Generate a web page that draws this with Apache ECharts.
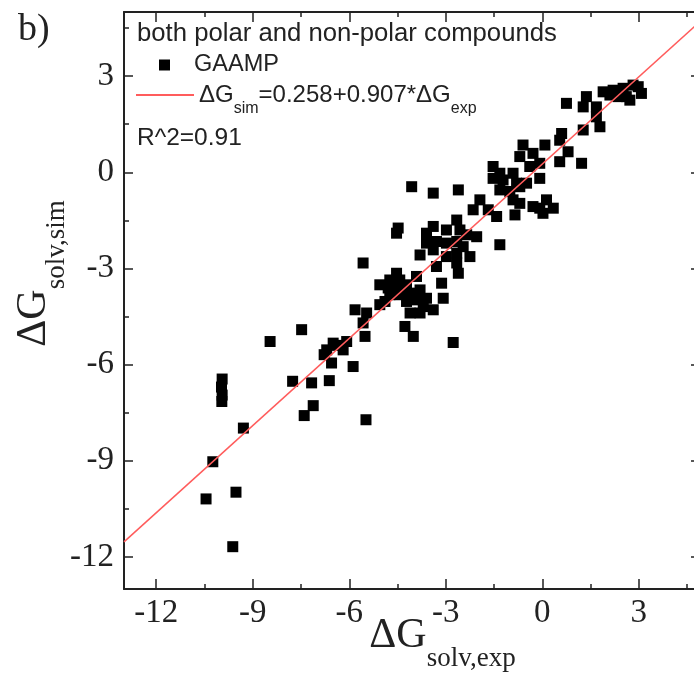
<!DOCTYPE html>
<html><head><meta charset="utf-8">
<script src="https://cdn.jsdelivr.net/npm/echarts@6/dist/echarts.min.js"></script>
<style>html,body{margin:0;padding:0;background:#fff}#c{width:694px;height:684px}</style>
</head><body><div id="c"></div>
<script>
// ---- data ----
const xMajor = [-12, -9, -6, -3, 0, 3];
const xMinor = [-10.5, -7.5, -4.5, -1.5, 1.5, 4.5];
const yMajor = [-12, -9, -6, -3, 0, 3];
const yMinor = [-10.5, -7.5, -4.5, -1.5, 1.5, 4.5];
const fitLine = [[-13, -11.53], [4.9, 4.70]];
const gaamp = [
 [1.89,2.51],[2.20,2.56],[2.51,2.62],[2.82,2.72],[3.08,2.46],[2.61,2.36],[2.35,2.36],[2.98,2.67],[2.10,2.41],[2.72,2.25],
 [0.75,2.15],[1.37,2.36],[1.27,2.04],[1.68,2.04],[1.68,1.73],[0.54,1.0],
 [1.79,1.42],[1.27,1.32],[0.60,1.21],[-0.60,0.85],[0.08,0.85],[0.80,0.64],[0.54,0.33],[1.22,0.28],[-0.70,0.49],[-0.29,0.59],
 [-0.08,0.28],[-0.39,0.18],[-1.53,0.18],[-1.32,-0.03],[-0.91,-0.03],[-1.53,-0.19],[-1.22,-0.24],[-0.80,-0.34],[-0.49,-0.34],
 [-0.08,-0.19],[-1.32,-0.55],[-1.01,-0.60],[-0.70,-0.45],[-0.91,-0.86],[-0.70,-0.97],[-0.85,-1.33],[-0.29,-1.07],[-0.08,-1.12],
 [0.13,-0.86],[0.34,-1.12],[0.02,-1.28],[-1.94,-0.86],[-2.15,-1.17],[-1.42,-1.38],[-1.68,-1.17],[-4.06,-0.45],[-3.39,-0.65],
 [-2.61,-0.55],[-4.53,-1.90],[-4.48,-1.74],[-1.32,-2.26],[-3.60,-1.90],[-3.39,-1.69],[-2.98,-1.80],[-2.66,-1.49],[-2.56,-1.80],
 [-2.35,-1.95],[-2.04,-2.01],[-3.60,-2.21],[-3.29,-2.16],[-2.98,-2.21],[-2.66,-2.16],[-2.46,-2.32],[-3.39,-2.42],[-3.80,-2.58],
 [-2.98,-2.63],[-2.66,-2.52],[-2.25,-2.63],[-3.29,-2.94],[-2.66,-2.83],[-2.61,-3.15],[-5.57,-2.83],[-4.53,-3.15],[-4.74,-3.36],
 [-4.43,-3.36],[-5.05,-3.51],[-4.79,-3.61],[-4.53,-3.61],[-4.22,-3.51],[-3.91,-3.25],[-3.13,-3.46],[-3.80,-3.67],[-4.74,-3.82],
 [-4.43,-3.82],[-4.11,-3.77],[-4.89,-4.03],[-4.22,-4.03],[-3.91,-3.98],[-3.60,-3.93],[-3.08,-3.93],[-5.05,-4.13],[-3.70,-4.19],
 [-3.39,-4.29],[-4.11,-4.39],[-3.80,-4.39],[-5.82,-4.29],[-5.46,-4.39],[-5.57,-4.70],[-4.27,-4.81],[-4.01,-5.12],[-5.51,-5.12],
 [-2.77,-5.31],[-7.48,-4.91],[-6.50,-5.33],[-6.70,-5.54],[-6.19,-5.54],[-6.55,-5.95],[-5.88,-6.06],
 [-8.46,-5.28],[-9.95,-6.45],[-9.97,-6.70],[-9.95,-6.95],[-9.96,-7.15],[-10.24,-9.03],[-10.45,-10.19],[-9.52,-9.98],
 [-9.62,-11.68],[-9.29,-7.98],[-7.76,-6.52],[-7.17,-6.57],[-6.62,-6.50],[-7.40,-7.59],[-7.12,-7.28],[-5.48,-7.72],
 [-6.78,-5.69],[-6.08,-5.28],[-6.39,-5.40]
];
const xRange = [-13, 4.9];
const yRange = [-13, 5];

// ---- styling ----
const INK = '#222';
const serif = 'Liberation Serif';
const sans = 'Liberation Sans';
const tickStyle = {color: INK, width: 1.5};
const nameRich = {
  a: {fontFamily: serif, fontSize: 42, lineHeight: 72, color: INK, verticalAlign: 'middle'},
  s: {fontFamily: serif, fontSize: 27, lineHeight: 28, color: INK, verticalAlign: 'bottom'}
};
function axis(pos, range, ticks, len, line, extra) {
  return Object.assign({
    type: 'value', position: pos, min: range[0], max: range[1],
    nameMoveOverlap: false,
    axisLine: {show: line, onZero: false, lineStyle: {color: INK, width: 2}},
    axisTick: {show: true, inside: true, length: len, customValues: ticks, lineStyle: tickStyle},
    axisLabel: {show: false},
    splitLine: {show: false}
  }, extra || {});
}
const chart = echarts.init(document.getElementById('c'), null, {renderer: 'canvas'});
chart.setOption({
  animation: false,
  backgroundColor: '#fff',
  grid: {left: 124, right: -6, top: 12, bottom: 95, containLabel: false, outerBoundsMode: 'none'},
  xAxis: [
    axis('bottom', xRange, xMajor, 10, true, {
      axisLabel: {show: true, customValues: xMajor, fontFamily: serif, fontSize: 33, color: INK, margin: 8},
      name: '{a|ΔG}{s|solv,exp}', nameLocation: 'middle', nameGap: 11,
      nameTextStyle: {rich: nameRich, padding: [0, 0, 0, 61]}
    }),
    axis('bottom', xRange, xMinor, 5, false),
    axis('top', xRange, xMajor, 10, true),
    axis('top', xRange, xMinor, 5, false)
  ],
  yAxis: [
    axis('left', yRange, yMajor, 9, true, {
      axisLabel: {show: true, customValues: yMajor, fontFamily: serif, fontSize: 33, color: INK, margin: 10},
      name: '{a|ΔG}{s|solv,sim}', nameLocation: 'middle', nameGap: 54,
      nameTextStyle: {rich: nameRich, padding: [0, 0, 0, 54]}
    }),
    axis('left', yRange, yMinor, 5, false),
    axis('right', yRange, yMajor, 9, true),
    axis('right', yRange, yMinor, 5, false)
  ],
  legend: [
    {
      data: [{name: 'GAAMP', icon: 'rect'}], left: 159, top: 53, orient: 'vertical',
      itemWidth: 11, itemHeight: 11, padding: 0, selectedMode: false,
      formatter: '{g|GAAMP}',
      textStyle: {rich: {g: {fontFamily: sans, fontSize: 23.5, color: INK, padding: [0, 0, 0, 19]}}}
    },
    {
      data: ['fit'], left: 135, top: 83, orient: 'vertical',
      itemWidth: 58, itemHeight: 12, padding: 0, selectedMode: false,
      itemStyle: {opacity: 0},
      formatter: '{a|ΔG}{s|sim}{a|=0.258+0.907*ΔG}{s|exp}',
      textStyle: {rich: {
        a: {fontFamily: sans, fontSize: 24, lineHeight: 43, color: INK, verticalAlign: 'middle'},
        s: {fontFamily: sans, fontSize: 16, lineHeight: 17, color: INK, verticalAlign: 'bottom'}
      }}
    }
  ],
  graphic: [
    {type: 'text', left: 18, top: 11, style: {text: 'b)', font: '38px "Liberation Serif"', fill: INK}},
    {type: 'text', left: 137, top: 21, style: {text: 'both polar and non-polar compounds', font: '25.7px "Liberation Sans"', fill: INK}},
    {type: 'text', left: 137, top: 126, style: {text: 'R^2=0.91', font: '24.5px "Liberation Sans"', fill: INK}}
  ],
  series: [
    {
      name: 'GAAMP', type: 'scatter', xAxisIndex: 0, yAxisIndex: 0,
      symbol: 'rect', symbolSize: 11, itemStyle: {color: '#000', opacity: 1},
      data: gaamp, z: 3
    },
    {
      name: 'fit', type: 'line', xAxisIndex: 0, yAxisIndex: 0,
      symbol: 'none', showSymbol: false,
      lineStyle: {color: '#ff5c5c', width: 1.5}, itemStyle: {color: '#ff5c5c'},
      data: fitLine, z: 4
    }
  ]
});
</script></body></html>
